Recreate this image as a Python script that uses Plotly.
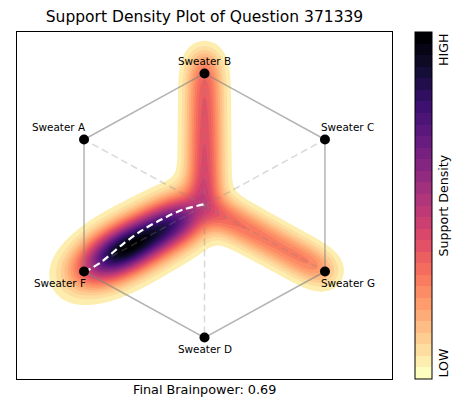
import numpy as np
import plotly.graph_objects as go
from plotly.colors import sample_colorscale

# ---------------- data ----------------
vertex_names = ["Sweater B", "Sweater C", "Sweater G", "Sweater D", "Sweater F", "Sweater A"]
vertex_x = [0.0, 0.866, 0.866, 0.0, -0.866, -0.866]
vertex_y = [1.0, 0.5, -0.5, -1.0, -0.5, 0.5]

# support samples (position + weight) that make up the density field
arm_f_x = [-0.953, -0.866, -0.779, -0.693, -0.606, -0.520, -0.433, -0.346, -0.260, -0.173, -0.087]
arm_f_y = [-0.550, -0.500, -0.450, -0.400, -0.350, -0.300, -0.250, -0.200, -0.150, -0.100, -0.050]
arm_f_w = [0.14, 0.32, 0.60, 0.88, 1.00, 1.00, 0.92, 0.86, 0.80, 0.74, 0.60]

center_x = [0.0]
center_y = [0.0]
center_w = [0.15]

arm_b_x = [0.0, 0.0, 0.0, 0.0, 0.0, 0.0, 0.0, 0.0, 0.0, 0.0, 0.0]
arm_b_y = [0.1, 0.2, 0.3, 0.4, 0.5, 0.6, 0.7, 0.8, 0.9, 1.0, 1.1]
arm_b_w = [0.52, 0.52, 0.51, 0.50, 0.49, 0.48, 0.47, 0.46, 0.44, 0.42, 0.30]

arm_g_x = [0.087, 0.173, 0.260, 0.346, 0.433, 0.520, 0.606, 0.693, 0.779, 0.866]
arm_g_y = [-0.050, -0.100, -0.150, -0.200, -0.250, -0.300, -0.350, -0.400, -0.450, -0.500]
arm_g_w = [0.42, 0.40, 0.39, 0.38, 0.37, 0.36, 0.36, 0.36, 0.36, 0.28]

# trajectory of the mean support (white dashed curve)
path_x = [-0.866, -0.748, -0.582, -0.439, -0.295, -0.151, -0.007]
path_y = [-0.505, -0.432, -0.288, -0.182, -0.098, -0.030, 0.008]

final_brainpower = 0.69
question_id = 371339

# ---------------- style ----------------
MAGMA = ["#000004", "#140e36", "#3b0f70", "#641a80", "#8c2981", "#b73779",
         "#de4968", "#f7705c", "#fe9f6d", "#fecf92", "#fcfdbf"]
magma_r = [[i / 10, c] for i, c in enumerate(MAGMA[::-1])]
N_BANDS = 30
band_colors = sample_colorscale(magma_r, [k / (N_BANDS - 1) for k in range(N_BANDS)])

XR = 1.348
YR = 1.314
BW_ARM = (0.087, 0.092)     # kernel size for the B / G arms and centre
BW_F = (0.118, 0.124)       # kernel size for the F arm

# page offset of the browser body (8px) is absorbed by the figure size
W, H = 456, 390
L, T, R, B = 9, 24, 72, 19
PLOT_W = W - L - R
PLOT_H = H - T - B

# ---------------- density ----------------
gx = np.linspace(-XR, XR, 340)
gy = np.linspace(-YR, YR, 340)
GX, GY = np.meshgrid(gx, gy)
Z = np.zeros_like(GX)
groups = [
    (arm_f_x, arm_f_y, arm_f_w, BW_F),
    (center_x, center_y, center_w, BW_ARM),
    (arm_b_x, arm_b_y, arm_b_w, BW_ARM),
    (arm_g_x, arm_g_y, arm_g_w, BW_ARM),
]
for xs, ys, ws, (bx, by) in groups:
    for px_, py_, w_ in zip(xs, ys, ws):
        Z += w_ * np.exp(-0.5 * (((GX - px_) / bx) ** 2 + ((GY - py_) / by) ** 2))
Z = Z / Z.max()

step = 1.0 / N_BANDS
nc = N_BANDS - 1
contour_cs = [[0.0, "white"]] + [[j / nc, band_colors[j]] for j in range(1, nc + 1)]

fig = go.Figure()
fig.add_trace(go.Contour(
    x=gx, y=gy, z=Z,
    autocontour=False,
    contours=dict(start=step, end=nc * step, size=step, coloring="fill", showlines=False),
    line=dict(width=0),
    colorscale=contour_cs,
    showscale=False,
    hoverinfo="skip",
))

# spokes (dashed)
for vx, vy in zip(vertex_x, vertex_y):
    fig.add_trace(go.Scatter(
        x=[0, vx], y=[0, vy], mode="lines",
        line=dict(color="rgba(128,128,128,0.3)", width=1.5, dash="7px,4px"),
        hoverinfo="skip", showlegend=False))

# hexagon edges
fig.add_trace(go.Scatter(
    x=vertex_x + [vertex_x[0]], y=vertex_y + [vertex_y[0]], mode="lines",
    line=dict(color="rgba(128,128,128,0.6)", width=1.5),
    hoverinfo="skip", showlegend=False))

# trajectory
fig.add_trace(go.Scatter(
    x=path_x, y=path_y, mode="lines",
    line=dict(color="white", width=2.2, dash="7px,4px", shape="spline"),
    hoverinfo="skip", showlegend=False))

# vertices
fig.add_trace(go.Scatter(
    x=vertex_x, y=vertex_y, mode="markers",
    marker=dict(color="black", size=10),
    hoverinfo="skip", showlegend=False))

# colorbar (discrete)
cb_cs = []
for k, c in enumerate(band_colors):
    cb_cs.append([k / N_BANDS, c])
    cb_cs.append([(k + 1) / N_BANDS, c])
fig.add_trace(go.Scatter(
    x=[0], y=[0], mode="markers",
    marker=dict(size=0, opacity=0, color=[0], cmin=0, cmax=1, colorscale=cb_cs, showscale=True,
                colorbar=dict(x=(415 - 17) / PLOT_W, xanchor="left", xpad=0, ypad=0,
                              y=0.5, yanchor="middle", len=1, lenmode="fraction",
                              thickness=17, thicknessmode="pixels",
                              outlinewidth=1, outlinecolor="black",
                              showticklabels=False, ticks="")),
    hoverinfo="skip", showlegend=False))

label_pos = {
    "Sweater B": dict(xanchor="center", xshift=0, yshift=12),
    "Sweater C": dict(xanchor="left", xshift=-6, yshift=12),
    "Sweater G": dict(xanchor="left", xshift=-6, yshift=-11),
    "Sweater D": dict(xanchor="center", xshift=0, yshift=-11),
    "Sweater F": dict(xanchor="right", xshift=4, yshift=-11),
    "Sweater A": dict(xanchor="right", xshift=4, yshift=12),
}
FONT = "DejaVu Sans"
annotations = []
for name, vx, vy in zip(vertex_names, vertex_x, vertex_y):
    p = label_pos[name]
    annotations.append(dict(x=vx, y=vy, xref="x", yref="y", text=name, showarrow=False,
                            xanchor=p["xanchor"], yanchor="middle",
                            xshift=p["xshift"], yshift=p["yshift"],
                            font=dict(family=FONT, size=10.4, color="black")))

cb_x = (443 - 17) / PLOT_W
annotations += [
    dict(x=cb_x, y=1, xref="paper", yref="paper", text="HIGH", textangle=-90, showarrow=False,
         xanchor="center", yanchor="top", font=dict(family=FONT, size=12.6, color="black")),
    dict(x=cb_x, y=0, xref="paper", yref="paper", text="LOW", textangle=-90, showarrow=False,
         xanchor="center", yanchor="bottom", font=dict(family=FONT, size=12.6, color="black")),
    dict(x=cb_x, y=0.5, xref="paper", yref="paper", text="Support Density", textangle=-90,
         showarrow=False, xanchor="center", yanchor="middle",
         font=dict(family=FONT, size=12.6, color="black")),
    dict(x=0.5, y=-(389 - 379) / PLOT_H, xref="paper", yref="paper",
         text=f"Final Brainpower: {final_brainpower:.2f}", showarrow=False,
         xanchor="center", yanchor="middle", font=dict(family=FONT, size=12.8, color="black")),
]

fig.update_layout(
    width=W, height=H,
    margin=dict(l=L, r=R, t=T, b=B),
    paper_bgcolor="white", plot_bgcolor="white",
    title=dict(text=f"Support Density Plot of Question {question_id}",
               x=0.5, xref="paper", xanchor="center",
               y=1 - 9 / H, yref="container", yanchor="middle",
               font=dict(family=FONT, size=15.5, color="black")),
    xaxis=dict(range=[-XR, XR], showline=True, mirror=True, linecolor="black", linewidth=1,
               showticklabels=False, ticks="", showgrid=False, zeroline=False, fixedrange=True),
    yaxis=dict(range=[-YR, YR], showline=True, mirror=True, linecolor="black", linewidth=1,
               showticklabels=False, ticks="", showgrid=False, zeroline=False, fixedrange=True),
    annotations=annotations,
    showlegend=False,
)

fig.write_html("out.html")
